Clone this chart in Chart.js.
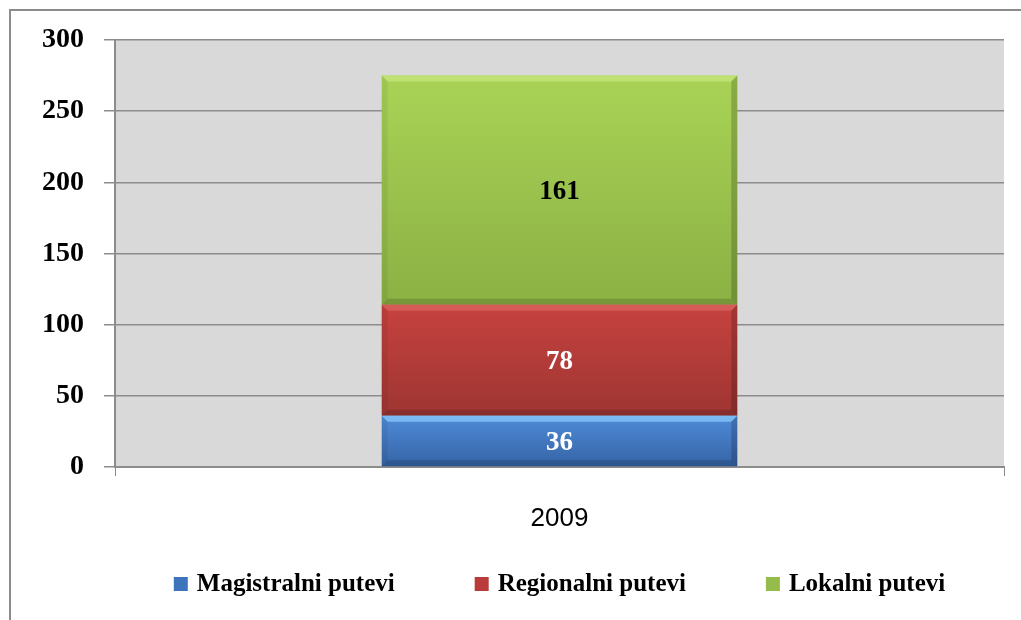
<!DOCTYPE html>
<html>
<head>
<meta charset="utf-8">
<script src="https://cdn.jsdelivr.net/npm/chart.js@4"></script>
<style>
    html, body { margin: 0; padding: 0; background: #fff; }
    #wrap { position: relative; width: 1021px; height: 620px; overflow: hidden; }
    #frame { position: absolute; left: 9px; top: 9px; width: 1100px; height: 700px; border-left: 2px solid #8c8c8c; border-top: 2px solid #8c8c8c; }
    #chart { position: absolute; left: 0; top: 0; }
</style>
</head>
<body>
<div id="wrap">
    <div id="frame"></div>
    <canvas id="chart" width="1021" height="620"></canvas>
</div>
<script>
// chart data
const categories = ['2009'];
const seriesNames = ['Magistralni putevi', 'Regionalni putevi', 'Lokalni putevi'];
const magistralni = [36];
const regionalni = [78];
const lokalni = [161];
const yTicks = [0, 50, 100, 150, 200, 250, 300];

// colours: gradient top/bottom, bevel highlight, value label colour
const barColors = [
    { top: '#4f8bd8', bottom: '#3563a5', light: '#86c4fb', label: '#ffffff' },
    { top: '#c6423f', bottom: '#9e3532', light: '#d9625e', label: '#ffffff' },
    { top: '#a9d356', bottom: '#8bb144', light: '#c3e57a', label: '#000000' }
];
const legendColors = ['#3c74bd', '#b83c39', '#94bc4b'];

const seriesValues = [magistralni, regionalni, lokalni];

function barGradient(context) {
    const chart = context.chart;
    const area = chart.chartArea;
    if (!area) return barColors[context.datasetIndex].top;
    const y = chart.scales.y;
    let start = 0;
    for (let i = 0; i < context.datasetIndex; i++) start += seriesValues[i][context.dataIndex];
    const end = start + seriesValues[context.datasetIndex][context.dataIndex];
    const c = barColors[context.datasetIndex];
    const g = chart.ctx.createLinearGradient(0, y.getPixelForValue(end), 0, y.getPixelForValue(start));
    g.addColorStop(0, c.top);
    g.addColorStop(1, c.bottom);
    return g;
}

// grey plot background
const plotBackground = {
    id: 'plotBackground',
    beforeDraw(chart) {
        const { ctx, chartArea } = chart;
        ctx.save();
        ctx.fillStyle = '#d9d9d9';
        ctx.fillRect(chartArea.left, chartArea.top, chartArea.right - chartArea.left, chartArea.bottom - chartArea.top);
        ctx.restore();
    }
};

function shadeQuad(ctx, pts, color, alpha) {
    ctx.globalAlpha = alpha;
    ctx.fillStyle = color;
    ctx.beginPath();
    ctx.moveTo(pts[0][0], pts[0][1]);
    for (let k = 1; k < pts.length; k++) ctx.lineTo(pts[k][0], pts[k][1]);
    ctx.closePath();
    ctx.fill();
}

// bevel edges + value labels
const barDecor = {
    id: 'barDecor',
    afterDatasetsDraw(chart) {
        const ctx = chart.ctx;
        chart.data.datasets.forEach((ds, di) => {
            const meta = chart.getDatasetMeta(di);
            meta.data.forEach((bar, i) => {
                const l = bar.x - bar.width / 2;
                const r = bar.x + bar.width / 2;
                const t = Math.min(bar.y, bar.base);
                const btm = Math.max(bar.y, bar.base);
                const b = 6;
                const c = barColors[di];
                ctx.save();
                shadeQuad(ctx, [[l, t], [r, t], [r - b, t + b], [l + b, t + b]], c.light, 0.8);
                shadeQuad(ctx, [[r, t], [r, btm], [r - b, btm - b], [r - b, t + b]], '#000', 0.18);
                shadeQuad(ctx, [[l, btm], [r, btm], [r - b, btm - b], [l + b, btm - b]], '#000', 0.15);
                shadeQuad(ctx, [[l, t], [l + b, t + b], [l + b, btm - b], [l, btm]], '#000', 0.06);
                ctx.restore();

                ctx.save();
                ctx.font = 'bold 27px "Liberation Serif", serif';
                ctx.fillStyle = c.label;
                ctx.textAlign = 'center';
                ctx.textBaseline = 'middle';
                ctx.fillText(ds.data[i], bar.x, (t + btm) / 2 + 2);
                ctx.restore();
            });
        });
    }
};

// legend drawn under the axis, centred on the plot area
const bottomLegend = {
    id: 'bottomLegend',
    afterDraw(chart) {
        const { ctx, chartArea } = chart;
        const font = 'bold 25px "Liberation Serif", serif';
        const box = 14, textGap = 9, itemGap = 80, y = 584;
        ctx.save();
        ctx.font = font;
        const widths = chart.data.datasets.map(ds => box + textGap + ctx.measureText(ds.label).width);
        const total = widths.reduce((a, w) => a + w, 0) + itemGap * (widths.length - 1);
        let x = (chartArea.left + chartArea.right) / 2 - total / 2;
        chart.data.datasets.forEach((ds, i) => {
            ctx.fillStyle = legendColors[i];
            ctx.fillRect(x, y - box / 2, box, box);
            ctx.fillStyle = '#000';
            ctx.textAlign = 'left';
            ctx.textBaseline = 'middle';
            ctx.fillText(ds.label, x + box + textGap, y + 1);
            x += widths[i] + itemGap;
        });
        ctx.restore();
    }
};

const data = {
    labels: categories,
    datasets: seriesNames.map((name, i) => ({
        label: name,
        data: seriesValues[i],
        backgroundColor: barGradient,
        borderWidth: 0,
        barPercentage: 0.4,
        categoryPercentage: 1.0
    }))
};

const options = {
    responsive: false,
    animation: false,
    layout: {
        padding: { left: 0, top: 40, right: 17, bottom: 68 }
    },
    plugins: {
        tooltip: { enabled: false },
        legend: { display: false }
    },
    scales: {
        x: {
            stacked: true,
            offset: true,
            afterFit: scale => { scale.height = 85; },
            grid: {
                display: true,
                drawOnChartArea: false,
                color: '#8c8c8c',
                tickLength: 9,
                offset: true
            },
            border: { color: '#8c8c8c', width: 2 },
            ticks: {
                color: '#000',
                font: { family: '"Liberation Sans", sans-serif', size: 26 },
                padding: 27
            }
        },
        y: {
            stacked: true,
            min: yTicks[0],
            max: yTicks[yTicks.length - 1],
            afterFit: scale => { scale.width = 115; },
            afterBuildTicks: scale => { scale.ticks = yTicks.map(v => ({ value: v })); },
            grid: {
                color: '#8c8c8c',
                lineWidth: 1.5,
                tickLength: 11
            },
            border: { color: '#8c8c8c', width: 2 },
            ticks: {
                color: '#000',
                font: { family: '"Liberation Serif", serif', size: 28, weight: 'bold' },
                padding: 20
            }
        }
    }
};

new Chart(document.getElementById('chart'), {
    type: 'bar',
    data: data,
    options: options,
    plugins: [plotBackground, barDecor, bottomLegend]
});
</script>
</body>
</html>
